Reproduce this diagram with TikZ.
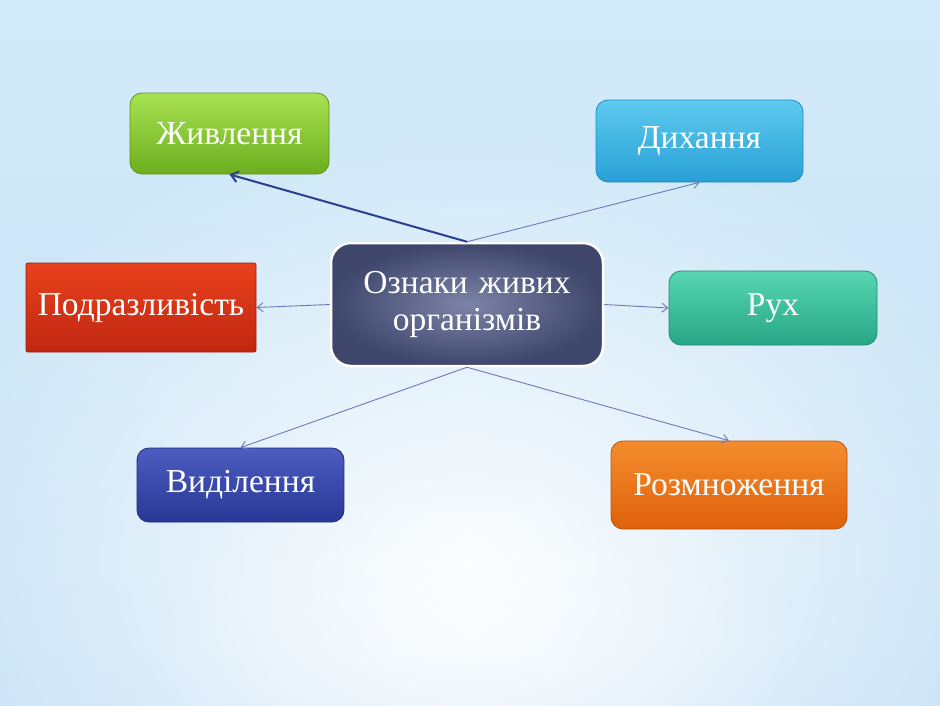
\documentclass[tikz,border=0pt]{standalone}
\usepackage{fontspec}
\setmainfont{Liberation Serif}
\usetikzlibrary{arrows.meta,shadings,fadings}
\definecolor{bgblue}{HTML}{BEDDF4}
\definecolor{bgtop}{HTML}{D2EAF9}
\definecolor{linkc}{HTML}{6A7AB8}
\definecolor{linkd}{HTML}{2A3F8F}
\tikzfading[name=myfade, inner color=transparent!0, outer color=transparent!100]
\tikzset{
  box/.style={rectangle, rounded corners=12pt, text=white, font=\fontsize{33.5}{38}\selectfont, line width=0.8pt, align=center, inner sep=0pt},
  link/.style={draw=linkc, line width=0.9pt, -{Straight Barb[length=6pt,width=9pt]}},
  linkthick/.style={draw=linkd, line width=2pt, -{Straight Barb[length=7pt,width=11pt]}},
}
\begin{document}
\begin{tikzpicture}[x=1pt,y=-1pt]
\useasboundingbox (0,0) rectangle (940,705);
% background
\shade[top color=bgtop, bottom color=bgblue!85!white] (0,0) rectangle (940,705);
\fill[white, opacity=0.9, path fading=myfade] (470,560) ellipse [x radius=580, y radius=440];
\fill[white, opacity=0.6, path fading=myfade] (470,630) ellipse [x radius=330, y radius=170];

% nodes
\node[box, minimum width=199pt, minimum height=81pt, draw={rgb,255:red,90;green,150;blue,24}, top color={rgb,255:red,168;green,226;blue,82}, bottom color={rgb,255:red,108;green,174;blue,30}] (zh) at (229.5,133.5) {Живлення};
\node[box, minimum width=207pt, minimum height=82pt, draw={rgb,255:red,30;green,140;blue,190}, top color={rgb,255:red,94;green,202;blue,240}, bottom color={rgb,255:red,40;green,160;blue,214}] (dy) at (699.5,141) {Дихання};
\node[box, rounded corners=2pt, minimum width=230pt, minimum height=89pt, draw={rgb,255:red,150;green,30;blue,15}, top color={rgb,255:red,232;green,66;blue,30}, bottom color={rgb,255:red,192;green,38;blue,16}] (pd) at (141,307.5) {Подразливість};
\node[box, minimum width=208pt, minimum height=74pt, draw={rgb,255:red,30;green,140;blue,110}, top color={rgb,255:red,86;green,214;blue,176}, bottom color={rgb,255:red,40;green,166;blue,134}] (rh) at (773,308) {Рух};
\node[box, minimum width=207pt, minimum height=74pt, draw={rgb,255:red,30;green,42;blue,120}, top color={rgb,255:red,76;green,92;blue,192}, bottom color={rgb,255:red,40;green,56;blue,150}] (vd) at (240.5,485) {Виділення};
\node[box, minimum width=236pt, minimum height=88pt, draw={rgb,255:red,190;green,80;blue,10}, top color={rgb,255:red,244;green,140;blue,44}, bottom color={rgb,255:red,224;green,96;blue,12}] (rz) at (729,485) {Розмноження};
\node[box, rounded corners=20pt, minimum width=272pt, minimum height=123pt, draw=white, line width=2.5pt, inner color={rgb,255:red,124;green,132;blue,168}, outer color={rgb,255:red,62;green,70;blue,108}, text width=265pt, font=\fontsize{33.5}{37}\selectfont] (c) at (467,304.5) {Ознаки живих\\організмів};

% connectors
\draw[linkthick] (c.north) -- (zh.south);
\draw[link] (c.north) -- (dy.south);
\draw[link] (c.west) -- (pd.east);
\draw[link] (c.east) -- (rh.west);
\draw[link] (c.south) -- (vd.north);
\draw[link] (c.south) -- (rz.north);
\end{tikzpicture}
\end{document}
